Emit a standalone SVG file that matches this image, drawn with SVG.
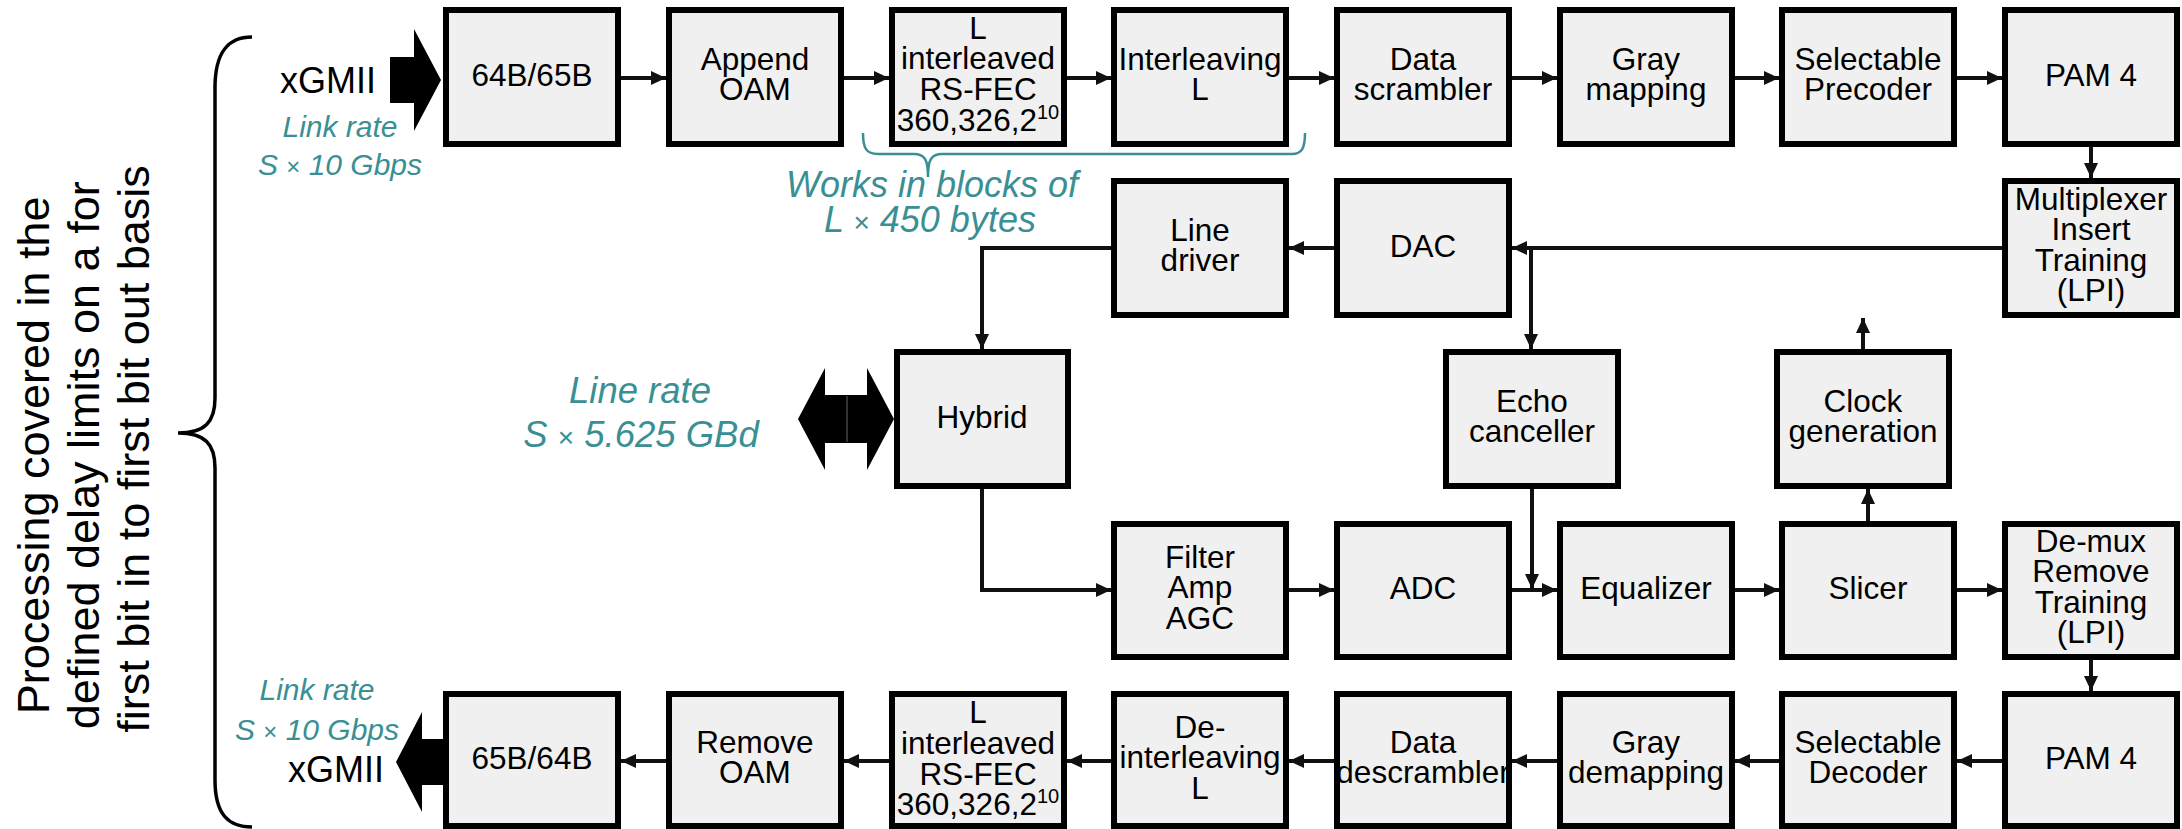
<svg xmlns="http://www.w3.org/2000/svg" width="2182" height="829" viewBox="0 0 2182 829">
  <style>
    .box rect { fill: #f0f0f0; stroke: #000; stroke-width: 6; }
    .box text, .lbl { font-family: "Liberation Sans", Arial, sans-serif; font-size: 31.5px; text-anchor: middle; fill: #000; }
    .sup { font-size: 20px; }
    .note { font-family: "Liberation Sans", Arial, sans-serif; font-style: italic; text-anchor: middle; fill: #3a8f94; }
    .times { font-style: normal; }
    .conn path { fill: none; stroke: #111; stroke-width: 4; }
    .big { fill: #000; }
    .brace { fill: none; stroke: #000; stroke-width: 3.5; }
    .tealbrace { fill: none; stroke: #3a8f94; stroke-width: 2.5; }
    .side { font-family: "Liberation Sans", Arial, sans-serif; font-size: 45px; text-anchor: middle; fill: #000; }
  </style>
  <defs>
    <marker id="ah" markerUnits="userSpaceOnUse" markerWidth="15" markerHeight="14" refX="15" refY="7" orient="auto">
      <path d="M0,0 L15,7 L0,14 z" fill="#111"/>
    </marker>
  </defs>

  <!-- side note with curly brace -->
  <g id="side-note">
    <text class="side" transform="translate(0,449) rotate(-90)">
      <tspan x="0" y="49">Processing covered in the</tspan>
      <tspan x="0" y="99">defined delay limits on a for</tspan>
      <tspan x="0" y="149">first bit in to first bit out basis</tspan>
    </text>
    <path class="brace" d="M252,37 C228,37 215,52 215,88 L215,398 C215,422 205,433 178,433 C205,433 215,444 215,468 L215,780 C215,814 228,827 252,827"/>
  </g>

  <!-- interface arrows and rate labels -->
  <g id="xgmii-in">
    <polygon class="big" points="390,57 414,57 414,29 441,80 414,131 414,103 390,103"/>
    <text class="lbl" x="328" y="93" style="font-size:36px">xGMII</text>
    <text class="note" style="font-size:30px"><tspan x="340" y="137">Link rate</tspan><tspan x="340" y="175">S <tspan class="times" font-size="24">×</tspan> 10 Gbps</tspan></text>
  </g>
  <g id="xgmii-out">
    <polygon class="big" points="445,739 422,739 422,712 396,762 422,812 422,785 445,785"/>
    <text class="lbl" x="336" y="782" style="font-size:36px">xGMII</text>
    <text class="note" style="font-size:30px"><tspan x="317" y="700">Link rate</tspan><tspan x="317" y="740">S <tspan class="times" font-size="24">×</tspan> 10 Gbps</tspan></text>
  </g>
  <g id="line-port">
    <polygon class="big" points="847,395 825,395 825,368 798,419 825,470 825,443 847,443"/>
    <polygon class="big" points="847,395 867,395 867,368 894,419 867,470 867,443 847,443"/>
    <line x1="847" y1="396" x2="847" y2="442" stroke="#666" stroke-width="1"/>
    <text class="note" style="font-size:36.5px"><tspan x="640" y="403">Line rate</tspan><tspan x="641" y="447">S <tspan class="times" font-size="28">×</tspan> 5.625 GBd</tspan></text>
  </g>
  <g id="block-note">
    <path class="tealbrace" d="M863,133 C863,148 866,154 878,154 L914,154 C925,154 928,160 928,177 C928,160 931,154 942,154 L1292,154 C1302,154 1305,148 1305,133"/>
    <text class="note" style="font-size:36px"><tspan x="932" y="197">Works in blocks of</tspan><tspan x="930" y="232">L <tspan class="times" font-size="28">×</tspan> 450 bytes</tspan></text>
  </g>

  <!-- transmit row -->
  <g id="enc6465" class="box"><rect x="446" y="10" width="172" height="134"/><text x="532" y="86">64B/65B</text></g>
  <g id="append-oam" class="box"><rect x="669" y="10" width="172" height="134"/><text x="755" y="70">Append</text><text x="755" y="100">OAM</text></g>
  <g id="rsfec-tx" class="box"><rect x="892" y="10" width="172" height="134"/><text x="978" y="39">L</text><text x="978" y="69">interleaved</text><text x="978" y="100">RS-FEC</text><text x="978" y="131">360,326,2<tspan class="sup" dy="-12">10</tspan></text></g>
  <g id="interleave" class="box"><rect x="1114" y="10" width="172" height="134"/><text x="1200" y="70">Interleaving</text><text x="1200" y="100">L</text></g>
  <g id="scrambler" class="box"><rect x="1337" y="10" width="172" height="134"/><text x="1423" y="70">Data</text><text x="1423" y="100">scrambler</text></g>
  <g id="gray-map" class="box"><rect x="1560" y="10" width="172" height="134"/><text x="1646" y="70">Gray</text><text x="1646" y="100">mapping</text></g>
  <g id="precoder" class="box"><rect x="1782" y="10" width="172" height="134"/><text x="1868" y="70">Selectable</text><text x="1868" y="100">Precoder</text></g>
  <g id="pam4-tx" class="box"><rect x="2005" y="10" width="172" height="134"/><text x="2091" y="86">PAM 4</text></g>

  <!-- second row -->
  <g id="line-driver" class="box"><rect x="1114" y="181" width="172" height="134"/><text x="1200" y="241">Line</text><text x="1200" y="271">driver</text></g>
  <g id="dac" class="box"><rect x="1337" y="181" width="172" height="134"/><text x="1423" y="257">DAC</text></g>
  <g id="mux" class="box"><rect x="2005" y="181" width="172" height="134"/><text x="2091" y="210">Multiplexer</text><text x="2091" y="240">Insert</text><text x="2091" y="271">Training</text><text x="2091" y="301">(LPI)</text></g>

  <!-- third row -->
  <g id="hybrid" class="box"><rect x="897" y="352" width="171" height="134"/><text x="982" y="428">Hybrid</text></g>
  <g id="echo" class="box"><rect x="1446" y="352" width="172" height="134"/><text x="1532" y="412">Echo</text><text x="1532" y="442">canceller</text></g>
  <g id="clock" class="box"><rect x="1777" y="352" width="172" height="134"/><text x="1863" y="412">Clock</text><text x="1863" y="442">generation</text></g>

  <!-- receive front end -->
  <g id="filter" class="box"><rect x="1114" y="524" width="172" height="133"/><text x="1200" y="568">Filter</text><text x="1200" y="598">Amp</text><text x="1200" y="629">AGC</text></g>
  <g id="adc" class="box"><rect x="1337" y="524" width="172" height="133"/><text x="1423" y="599">ADC</text></g>
  <g id="equalizer" class="box"><rect x="1560" y="524" width="172" height="133"/><text x="1646" y="599">Equalizer</text></g>
  <g id="slicer" class="box"><rect x="1782" y="524" width="172" height="133"/><text x="1868" y="599">Slicer</text></g>
  <g id="demux" class="box"><rect x="2005" y="524" width="172" height="133"/><text x="2091" y="552">De-mux</text><text x="2091" y="582">Remove</text><text x="2091" y="613">Training</text><text x="2091" y="643">(LPI)</text></g>

  <!-- receive row -->
  <g id="dec6564" class="box"><rect x="446" y="694" width="172" height="132"/><text x="532" y="769">65B/64B</text></g>
  <g id="remove-oam" class="box"><rect x="669" y="694" width="172" height="132"/><text x="755" y="753">Remove</text><text x="755" y="783">OAM</text></g>
  <g id="rsfec-rx" class="box"><rect x="892" y="694" width="172" height="132"/><text x="978" y="723">L</text><text x="978" y="754">interleaved</text><text x="978" y="785">RS-FEC</text><text x="978" y="815">360,326,2<tspan class="sup" dy="-12">10</tspan></text></g>
  <g id="deinterleave" class="box"><rect x="1114" y="694" width="172" height="132"/><text x="1200" y="738">De-</text><text x="1200" y="768">interleaving</text><text x="1200" y="799">L</text></g>
  <g id="descrambler" class="box"><rect x="1337" y="694" width="172" height="132"/><text x="1423" y="753">Data</text><text x="1423" y="783">descrambler</text></g>
  <g id="gray-demap" class="box"><rect x="1560" y="694" width="172" height="132"/><text x="1646" y="753">Gray</text><text x="1646" y="783">demapping</text></g>
  <g id="decoder" class="box"><rect x="1782" y="694" width="172" height="132"/><text x="1868" y="753">Selectable</text><text x="1868" y="783">Decoder</text></g>
  <g id="pam4-rx" class="box"><rect x="2005" y="694" width="172" height="132"/><text x="2091" y="769">PAM 4</text></g>

  <!-- connectors -->
  <g id="connectors" class="conn">
    <path d="M621,78 H666" marker-end="url(#ah)"/>
    <path d="M844,78 H889" marker-end="url(#ah)"/>
    <path d="M1067,78 H1111" marker-end="url(#ah)"/>
    <path d="M1289,78 H1334" marker-end="url(#ah)"/>
    <path d="M1512,78 H1557" marker-end="url(#ah)"/>
    <path d="M1735,78 H1779" marker-end="url(#ah)"/>
    <path d="M1957,78 H2002" marker-end="url(#ah)"/>
    <path d="M2091,147 V178" marker-end="url(#ah)"/>
    <path d="M2002,248 H1512" marker-end="url(#ah)"/>
    <path d="M1531,248 V349" marker-end="url(#ah)"/>
    <path d="M1334,248 H1289" marker-end="url(#ah)"/>
    <path d="M1111,248 H982 V349" marker-end="url(#ah)"/>
    <path d="M982,489 V590 H1111" marker-end="url(#ah)"/>
    <path d="M1289,590 H1334" marker-end="url(#ah)"/>
    <path d="M1512,590 H1557" marker-end="url(#ah)"/>
    <path d="M1532,489 V589" marker-end="url(#ah)"/>
    <path d="M1735,590 H1779" marker-end="url(#ah)"/>
    <path d="M1957,590 H2002" marker-end="url(#ah)"/>
    <path d="M1868,521 V489" marker-end="url(#ah)"/>
    <path d="M1863,349 V318" marker-end="url(#ah)"/>
    <path d="M2091,660 V691" marker-end="url(#ah)"/>
    <path d="M2002,761 H1957" marker-end="url(#ah)"/>
    <path d="M1779,761 H1735" marker-end="url(#ah)"/>
    <path d="M1557,761 H1512" marker-end="url(#ah)"/>
    <path d="M1334,761 H1289" marker-end="url(#ah)"/>
    <path d="M1111,761 H1067" marker-end="url(#ah)"/>
    <path d="M889,761 H844" marker-end="url(#ah)"/>
    <path d="M666,761 H621" marker-end="url(#ah)"/>
  </g>
</svg>
